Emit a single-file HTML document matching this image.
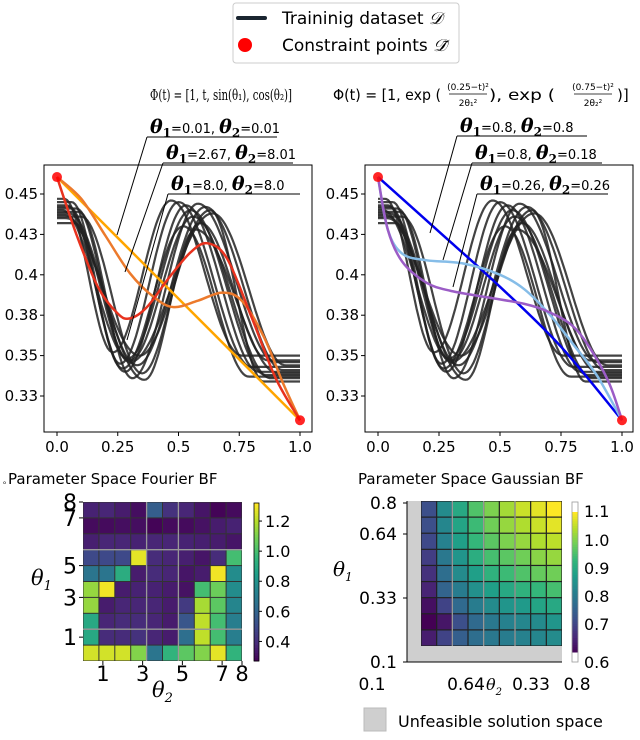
<!DOCTYPE html>
<html><head><meta charset="utf-8"><style>
body{margin:0;background:#fff;}
svg text{font-family:"DejaVu Sans","Liberation Sans",sans-serif;}
.serif{font-family:"DejaVu Serif","Liberation Serif",serif;}
</style></head><body>
<svg id="fig" width="640" height="735" viewBox="0 0 640 735" xmlns="http://www.w3.org/2000/svg">
<g>
<rect x="233" y="3" width="226" height="60" rx="3" fill="#fff" stroke="#ccc" stroke-width="1"/>
<line x1="238" y1="18" x2="265" y2="18" stroke="#1a2530" stroke-width="4" stroke-linecap="round"/>
<text x="282" y="24" font-size="17">Traininig dataset <tspan class="serif" font-style="italic">𝒟</tspan></text>
<circle cx="245" cy="45" r="7" fill="#f00"/>
<text x="282" y="51" font-size="17">Constraint points <tspan class="serif" font-style="italic">𝒟̃</tspan></text>
</g>
<text class="serif" x="150" y="100" font-size="15" textLength="142" lengthAdjust="spacingAndGlyphs">Φ(t) = [1, t, sin(θ₁), cos(θ₂)]</text>
<g class="serif" font-size="15">
<text x="333" y="100" textLength="108" lengthAdjust="spacingAndGlyphs">Φ(t) = [1, exp (</text>
<text x="468" y="90" font-size="9" text-anchor="middle">(0.25−t)²</text>
<line x1="449" y1="94" x2="487" y2="94" stroke="#000" stroke-width="0.8"/>
<text x="468" y="106" font-size="9" text-anchor="middle">2θ₁²</text>
<text x="489" y="100" textLength="66" lengthAdjust="spacingAndGlyphs">), exp (</text>
<text x="593" y="90" font-size="9" text-anchor="middle">(0.75−t)²</text>
<line x1="574" y1="94" x2="612" y2="94" stroke="#000" stroke-width="0.8"/>
<text x="593" y="106" font-size="9" text-anchor="middle">2θ₂²</text>
<text x="617" y="100">)]</text>
</g>
<g id="plots"></g>
<g id="heat"></g>
<rect x="364" y="708" width="22" height="23" fill="#cfcfcf" stroke="#bbb"/>
<text x="398" y="727" font-size="16">Unfeasible  solution space</text>
</svg>
<script>
const startVals=[0.447,0.445,0.443,0.441,0.440,0.439,0.438,0.437,0.436,0.435,0.432,0.442];
const flatEnd=[0.03,0.06,0.04,0.08,0.02,0.09,0.05,0.03,0.10,0.04,0.07,0.05];
const minT=[0.23,0.26,0.28,0.29,0.30,0.31,0.33,0.34,0.35,0.36,0.30,0.27];
const minV=[0.352,0.345,0.340,0.348,0.347,0.336,0.344,0.350,0.339,0.335,0.346,0.342];
const maxT=[0.47,0.50,0.53,0.55,0.56,0.58,0.61,0.63,0.59,0.57,0.64,0.52];
const maxV=[0.446,0.445,0.443,0.440,0.436,0.444,0.442,0.440,0.432,0.428,0.438,0.430];
const endT=[0.76,0.80,0.83,0.86,0.88,0.90,0.93,0.85,0.87,0.91,0.94,0.79];
const endVals=[0.350,0.343,0.340,0.338,0.336,0.346,0.341,0.334,0.347,0.339,0.344,0.337];
const constraintT=[0,1];
const constraintV=[0.4605,0.310];
const fourierLow_t=[0,1];
const fourierLow_v=[0.4605,0.310];
const fourierMid_t=[0,0.1,0.2,0.3,0.4,0.48,0.58,0.68,0.76,0.85,0.93,1];
const fourierMid_v=[0.4605,0.447,0.424,0.401,0.386,0.380,0.384,0.389,0.384,0.362,0.333,0.310];
const fourierHigh_t=[0,0.08,0.17,0.25,0.30,0.37,0.46,0.55,0.62,0.70,0.80,0.90,1];
const fourierHigh_v=[0.4605,0.425,0.392,0.376,0.373,0.380,0.398,0.414,0.4195,0.410,0.374,0.336,0.310];
const gaussA_t=[0,0.25,0.5,0.75,1];
const gaussA_v=[0.4605,0.4267,0.3926,0.3555,0.310];
const gaussB_t=[0,0.04,0.1,0.2,0.35,0.5,0.6,0.7,0.8,0.9,1];
const gaussB_v=[0.4605,0.428,0.413,0.409,0.407,0.400,0.391,0.376,0.357,0.337,0.310];
const gaussC_t=[0,0.04,0.1,0.2,0.3,0.45,0.6,0.7,0.8,0.88,0.95,1];
const gaussC_v=[0.4605,0.428,0.408,0.395,0.390,0.386,0.382,0.377,0.368,0.352,0.332,0.310];
const xTickVals=[0,0.25,0.5,0.75,1];
const xTickLabels=["0.0","0.25","0.5","0.75","1.0"];
const yTickVals=[0.45,0.425,0.4,0.375,0.35,0.325];
const yTickLabels=["0.45","0.43","0.4","0.38","0.35","0.33"];
const fourierGrid=[
[0.37,0.38,0.35,0.31,0.58,0.42,0.38,0.33,0.28,0.30],
[0.30,0.30,0.31,0.31,0.28,0.30,0.30,0.32,0.35,0.37],
[0.36,0.38,0.38,0.37,0.38,0.38,0.37,0.36,0.35,0.33],
[0.50,0.50,0.50,1.28,0.40,0.38,0.36,0.33,0.40,1.00],
[0.68,0.68,0.92,0.35,0.40,0.38,0.33,0.35,1.30,0.78],
[1.15,1.30,0.35,0.37,0.37,0.35,0.32,1.00,1.08,0.78],
[1.15,0.35,0.38,0.38,0.38,0.35,0.45,1.18,1.05,0.75],
[0.90,0.38,0.40,0.40,0.38,0.35,0.55,1.22,1.00,0.72],
[0.90,0.40,0.40,0.42,0.38,0.35,0.65,1.22,1.00,0.72],
[1.25,1.25,1.25,1.12,0.68,0.95,1.05,1.12,1.28,0.95]];
const fourierRange=[0.27,1.32];
const fourierCbTicks=[1.2,1.0,0.8,0.6,0.4];
const fourierYTicks=["8","7","5","3","1"];
const fourierYTickPos=[10,9,6,4,1.5];
const fourierXTicks=["1","3","5","7","8"];
const fourierXTickPos=[1,3,5,7,8];
const gaussGrid=[
[0.72,0.84,0.90,0.96,1.00,1.03,1.06,1.08,1.10],
[0.72,0.83,0.89,0.94,0.99,1.02,1.04,1.06,1.08],
[0.71,0.82,0.88,0.93,0.97,1.00,1.02,1.04,1.05],
[0.69,0.80,0.86,0.91,0.95,0.97,0.99,1.01,1.02],
[0.67,0.78,0.84,0.88,0.92,0.94,0.96,0.98,0.99],
[0.65,0.76,0.81,0.85,0.88,0.90,0.92,0.93,0.95],
[0.62,0.70,0.77,0.81,0.84,0.86,0.87,0.89,0.90],
[0.60,0.63,0.72,0.77,0.80,0.82,0.83,0.84,0.86],
[0.64,0.70,0.75,0.78,0.80,0.81,0.82,0.83,0.84]];
const gaussRange=[0.6,1.1];
const gaussCbTicks=[1.1,1.0,0.9,0.8,0.7,0.6];

const NS="http://www.w3.org/2000/svg";
function mk(tag,attrs,parent){const e=document.createElementNS(NS,tag);for(const k in attrs)e.setAttribute(k,attrs[k]);parent.appendChild(e);return e;}
const plots=document.getElementById('plots');

function cosInterp(kt,kv,t){
  if(t<=kt[0])return kv[0];
  for(let i=0;i<kt.length-1;i++){if(t<=kt[i+1]){const u=(t-kt[i])/(kt[i+1]-kt[i]);const s=(1-Math.cos(Math.PI*u))/2;return kv[i]+(kv[i+1]-kv[i])*s;}}
  return kv[kv.length-1];
}
function smoothPath(pts){
  let d='M'+pts[0][0].toFixed(1)+','+pts[0][1].toFixed(1);
  for(let i=0;i<pts.length-1;i++){
    const p0=pts[Math.max(0,i-1)],p1=pts[i],p2=pts[i+1],p3=pts[Math.min(pts.length-1,i+2)];
    const c1=[p1[0]+(p2[0]-p0[0])/6,p1[1]+(p2[1]-p0[1])/6];
    const c2=[p2[0]-(p3[0]-p1[0])/6,p2[1]-(p3[1]-p1[1])/6];
    d+=' C'+c1[0].toFixed(1)+','+c1[1].toFixed(1)+' '+c2[0].toFixed(1)+','+c2[1].toFixed(1)+' '+p2[0].toFixed(1)+','+p2[1].toFixed(1);
  }
  return d;
}

function drawPanel(side,frameX0,frameX1,x0,x1,series,annots){
  const g=mk('g',{},plots);
  
  
  const yPx0=194, perUnit=40.4/0.025;
  const X=t=>x0+t*(x1-x0);
  const Y=v=>yPx0+(0.45-v)*perUnit;
  const cl='clip'+side;
  const cp=mk('clipPath',{id:cl},g);mk('rect',{x:frameX0,y:165,width:frameX1-frameX0,height:267},cp);
  const inner=mk('g',{'clip-path':'url(#'+cl+')'},g);
  for(let c=0;c<startVals.length;c++){
    const kt=[0,flatEnd[c],minT[c],maxT[c],endT[c],1];
    const kv=[startVals[c],startVals[c],minV[c],maxV[c],endVals[c],endVals[c]];
    let d='';
    for(let i=0;i<=120;i++){const t=i/120;d+=(i?'L':'M')+X(t).toFixed(1)+','+Y(cosInterp(kt,kv,t)).toFixed(1);}
    const p=mk('path',{d:d,fill:'none',stroke:'#222','stroke-opacity':'0.85','stroke-width':'2.2'},inner);
    
    
  }
  series.forEach(s=>{
    const pts=s.t.map((t,i)=>[X(t),Y(s.v[i])]);
    const p=mk('path',{d:smoothPath(pts),fill:'none',stroke:s.color,'stroke-width':'2.5'},inner);
    
    
  });
  constraintT.forEach((t,i)=>{
    const c=mk('circle',{cx:X(t),cy:Y(constraintV[i]),r:5,fill:'#f00','fill-opacity':'0.85'},g);
    
    
  });
  const fr=mk('rect',{x:frameX0,y:165,width:frameX1-frameX0,height:267,fill:'none',stroke:'#000','stroke-width':'1'},g);
  
  
  xTickVals.forEach((t,i)=>{
    mk('line',{x1:X(t),y1:432,x2:X(t),y2:436,stroke:'#000'},g);
    const tx=mk('text',{x:X(t),y:452,'font-size':'15','text-anchor':'middle'},g);tx.textContent=xTickLabels[i];
    
    
  });
  yTickVals.forEach((v,i)=>{
    mk('line',{x1:frameX0-4,y1:Y(v),x2:frameX0,y2:Y(v),stroke:'#000'},g);
    const tx=mk('text',{x:frameX0-6,y:Y(v)+5,'font-size':'15','text-anchor':'end'},g);tx.textContent=yTickLabels[i];
    
    
  });
  annots.forEach(a=>{
    const ag=mk('g',{},g);
    
    
    mk('line',{x1:a.ux0,y1:a.uy,x2:a.ux1,y2:a.uy,stroke:'#000','stroke-width':'1'},ag);
    mk('line',{x1:a.ux0,y1:a.uy,x2:a.tx,y2:a.ty,stroke:'#000','stroke-width':'1'},ag);
    const t=mk('text',{x:a.ux0+3,y:a.uy-4,'font-size':'13'},ag);
    t.innerHTML='<tspan class="serif" font-style="italic" font-weight="bold" font-size="19">θ</tspan><tspan class="serif" font-weight="bold" font-size="12" dy="4">1</tspan><tspan dy="-4">='+a.a+', </tspan><tspan class="serif" font-style="italic" font-weight="bold" font-size="19">θ</tspan><tspan class="serif" font-weight="bold" font-size="12" dy="4">2</tspan><tspan dy="-4">='+a.b+'</tspan>';
  });
}
drawPanel('left',44,312,57,300,[
 {t:fourierLow_t,v:fourierLow_v,color:'#ffa500',name:'fourier-curve-theta-0.01'},
 {t:fourierMid_t,v:fourierMid_v,color:'#ec7a2c',name:'fourier-curve-theta-2.67'},
 {t:fourierHigh_t,v:fourierHigh_v,color:'#e8321e',name:'fourier-curve-theta-8.0'}],
 [{ux0:147,ux1:277,uy:137,tx:117,ty:235,a:'0.01',b:'0.01'},
  {ux0:163,ux1:293,uy:163,tx:125,ty:272,a:'2.67',b:'8.01'},
  {ux0:168,ux1:300,uy:194,tx:127,ty:340,a:'8.0',b:'8.0'}]);
drawPanel('right',365,633,378,622,[
 {t:gaussA_t,v:gaussA_v,color:'#0000ee',name:'gaussian-curve-0.8-0.8'},
 {t:gaussB_t,v:gaussB_v,color:'#86bde8',name:'gaussian-curve-0.8-0.18'},
 {t:gaussC_t,v:gaussC_v,color:'#9b5cc6',name:'gaussian-curve-0.26-0.26'}],
 [{ux0:457,ux1:587,uy:136,tx:430,ty:233,a:'0.8',b:'0.8'},
  {ux0:472,ux1:602,uy:163,tx:443,ty:260,a:'0.8',b:'0.18'},
  {ux0:477,ux1:608,uy:194,tx:453,ty:287,a:'0.26',b:'0.26'}]);

const VS=[[68,1,84],[72,40,120],[62,74,137],[49,104,142],[38,130,142],[31,158,137],[53,183,121],[110,206,88],[181,222,43],[253,231,37]];
function viridis(u){u=Math.max(0,Math.min(1,u));const f=u*(VS.length-1);const i=Math.min(VS.length-2,Math.floor(f));const r=f-i;
 const c=VS[i].map((a,k)=>Math.round(a+(VS[i+1][k]-a)*r));return 'rgb('+c.join(',')+')';}
const heat=document.getElementById('heat');

function txt(parent,x,y,s,size,anchor,name,cls){const t=mk('text',{x:x,y:y,'font-size':size,'text-anchor':anchor||'start'},parent);if(cls)t.setAttribute('class',cls);t.textContent=s;
 
 return t;}

(function(){
 const g=mk('g',{},heat);
 
 
 const x0=83,x1=242,y0=502,y1=661,n=fourierGrid.length,m=fourierGrid[0].length;
 const cw=(x1-x0)/m,ch=(y1-y0)/n;
 mk('rect',{x:x0,y:y0,width:x1-x0,height:y1-y0,fill:'#333'},g);
 fourierGrid.forEach((row,r)=>row.forEach((v,c)=>{
  const e=mk('rect',{x:x0+c*cw+0.5,y:y0+r*ch+0.5,width:cw-1,height:ch-1,fill:viridis((v-fourierRange[0])/(fourierRange[1]-fourierRange[0]))},g);
  
  
 }));
 [4,6].forEach(c=>mk('line',{x1:x0+c*cw,y1:y0,x2:x0+c*cw,y2:y1,stroke:'#999','stroke-width':'1.3'},g));
 [3,8].forEach(r=>mk('line',{x1:x0,y1:y0+r*ch,x2:x1,y2:y0+r*ch,stroke:'#999','stroke-width':'1.3'},g));
 txt(g,8,484,'Parameter Space Fourier BF',15,'start','fourier-heatmap-title');
 txt(g,3,484,'ₒ',8,'start','title-marker');
 fourierYTicks.forEach((s,i)=>{const y=y1-fourierYTickPos[i]*ch;mk('line',{x1:x0-4,y1:y,x2:x0,y2:y,stroke:'#000'},g);txt(g,x0-6,y+8,s,22,'end','y-tick-label');});
 fourierXTicks.forEach((s,i)=>{const x=x0+fourierXTickPos[i]*(x1-x0)/8;mk('line',{x1:x,y1:y1,x2:x,y2:y1+4,stroke:'#000'},g);txt(g,x,y1+20,s,21,'middle','x-tick-label');});
 const t1=txt(g,31,585,'θ',21,'start','y-axis-title','serif');t1.setAttribute('font-style','italic');t1.innerHTML='θ<tspan font-size="13" dy="5">1</tspan>';
 const t2=txt(g,152,697,'θ',21,'start','x-axis-title','serif');t2.setAttribute('font-style','italic');t2.innerHTML='θ<tspan font-size="13" dy="5">2</tspan>';
 const cx=254,cwid=5,cy0=503,cy1=661;
 for(let i=0;i<60;i++){mk('rect',{x:cx,y:cy0+(cy1-cy0)*i/60,width:cwid,height:(cy1-cy0)/60+0.5,fill:viridis(1-i/60)},g);}
 mk('rect',{x:cx,y:cy0,width:cwid,height:cy1-cy0,fill:'none',stroke:'#000','stroke-width':'0.8'},g);
 fourierCbTicks.forEach(v=>{const y=cy1-(v-fourierRange[0])/(fourierRange[1]-fourierRange[0])*(cy1-cy0);mk('line',{x1:cx+cwid,y1:y,x2:cx+cwid+3,y2:y,stroke:'#000'},g);txt(g,265,y+6,v.toFixed(1),16,'start','colorbar-tick-label');});
})();

(function(){
 const g=mk('g',{},heat);
 
 
 const ax0=407,ax1=562,ay0=501,ay1=662;
 const x0=421,y1=646,n=gaussGrid.length,m=gaussGrid[0].length;
 const cw=(ax1-x0)/m,ch=(y1-ay0)/n;
 const un=mk('rect',{x:ax0,y:ay0,width:ax1-ax0,height:ay1-ay0,fill:'#cfcfcf'},g);
 
 
 mk('rect',{x:x0,y:ay0,width:ax1-x0,height:y1-ay0,fill:'#222'},g);
 gaussGrid.forEach((row,r)=>row.forEach((v,c)=>{
  const e=mk('rect',{x:x0+c*cw+0.6,y:ay0+r*ch+0.6,width:cw-1.2,height:ch-1.2,fill:viridis((v-gaussRange[0])/(gaussRange[1]-gaussRange[0]))},g);
  
  
 }));
 [2,4,6].forEach(c=>mk('line',{x1:x0+c*cw,y1:ay0,x2:x0+c*cw,y2:y1,stroke:'#999','stroke-width':'1.3'},g));
 mk('line',{x1:ax0,y1:ay1,x2:ax1,y2:ay1,stroke:'#000'},g);
 mk('line',{x1:ax0,y1:ay0,x2:ax0,y2:ay1,stroke:'#000'},g);
 txt(g,358,484,'Parameter Space Gaussian BF',15,'start','gaussian-heatmap-title');
 [['0.8',503],['0.64',534],['0.33',598],['0.1',662]].forEach(a=>{mk('line',{x1:ax0-4,y1:a[1],x2:ax0,y2:a[1],stroke:'#000'},g);txt(g,397,a[1]+6,a[0],17,'end','y-tick-label');});
 [['0.1',372],['0.64',466],['0.33',531],['0.8',577]].forEach(a=>txt(g,a[1],690,a[0],17,'middle','x-tick-label'));
 const t1=txt(g,333,576,'θ',20,'start','y-axis-title','serif');t1.setAttribute('font-style','italic');t1.innerHTML='θ<tspan font-size="12" dy="5">1</tspan>';
 const t2=txt(g,486,690,'θ',16,'start','x-axis-title','serif');t2.setAttribute('font-style','italic');t2.innerHTML='θ<tspan font-size="10" dy="5">2</tspan>';
 const cx=572,cwid=6,cy0=502,cy1=662,ext=10;
 const iy0=cy0+ext,iy1=cy1-ext;
 for(let i=0;i<60;i++){mk('rect',{x:cx,y:iy0+(iy1-iy0)*i/60,width:cwid,height:(iy1-iy0)/60+0.5,fill:viridis(1-i/60)},g);}
 mk('rect',{x:cx,y:cy0,width:cwid,height:cy1-cy0,fill:'none',stroke:'#999','stroke-width':'0.8'},g);
 gaussCbTicks.forEach((v,i)=>{const y=i===gaussCbTicks.length-1?cy1:iy1-(v-gaussRange[0])/(gaussRange[1]-gaussRange[0])*(iy1-iy0)+ (i===0?-1:0);txt(g,584,y+6,v.toFixed(1),16,'start','colorbar-tick-label');});
})();
</script>
</body></html>
